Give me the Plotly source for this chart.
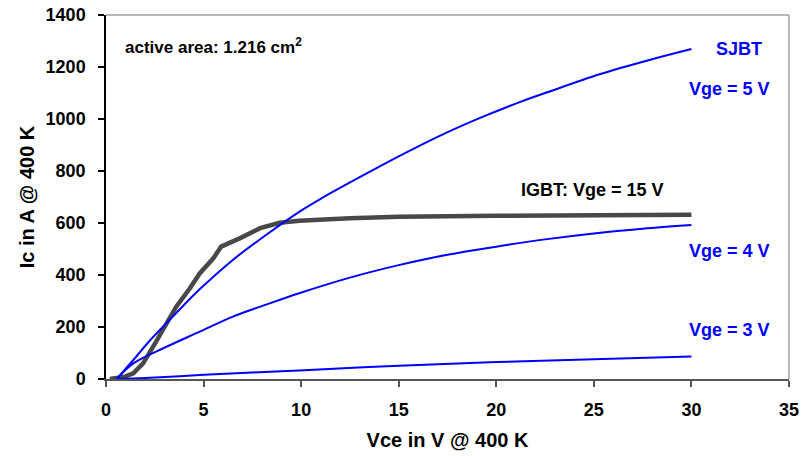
import plotly.graph_objects as go

# SJBT Vge = 5 V
x_5v = [0.55, 1.4, 2.25, 3.1, 3.96, 4.8, 6.5, 8.2, 9.9, 11.0, 13.0, 15.05, 17.1, 19.2, 21.2, 22.7, 25.3, 27.9, 30.0]
y_5v = [0, 73, 148, 215, 282, 345, 458, 554, 643, 693, 776, 858, 935, 1005, 1065, 1105, 1172, 1228, 1269]

# SJBT Vge = 4 V
x_4v = [0.55, 1.4, 3.1, 4.8, 6.5, 8.2, 9.9, 12.5, 15.0, 17.5, 20.0, 22.5, 25.0, 27.5, 30.0]
y_4v = [0, 60, 124, 182, 240, 286, 330, 390, 438, 478, 509, 537, 560, 578, 592]

# SJBT Vge = 3 V
x_3v = [0.6, 2.0, 4.8, 7.5, 9.9, 15.0, 20.0, 25.0, 30.0]
y_3v = [0, 4, 15, 25, 33, 51, 65, 76, 87]

# IGBT Vge = 15 V
x_igbt = [0.2, 0.97, 1.4, 1.9, 2.5, 3.1, 3.6, 4.3, 4.8, 5.5, 5.9, 6.85, 7.9, 8.9, 9.9, 12.5, 15.0, 20.0, 25.0, 30.0]
y_igbt = [0, 9, 22, 60, 135, 214, 278, 349, 406, 464, 509, 541, 580, 601, 609, 618, 624, 628, 631, 632]

x_ticks = [0, 5, 10, 15, 20, 25, 30, 35]
y_ticks = [0, 200, 400, 600, 800, 1000, 1200, 1400]

FONT = "Arial, 'Liberation Sans', sans-serif"
BLUE = "#0000FF"

fig = go.Figure()
fig.add_trace(go.Scatter(x=x_igbt, y=y_igbt, mode="lines",
                         line=dict(color="#484848", width=4.5), showlegend=False))
fig.add_trace(go.Scatter(x=x_5v, y=y_5v, mode="lines", line_shape="spline",
                         line=dict(color=BLUE, width=2), showlegend=False))
fig.add_trace(go.Scatter(x=x_4v, y=y_4v, mode="lines", line_shape="spline",
                         line=dict(color=BLUE, width=2), showlegend=False))
fig.add_trace(go.Scatter(x=x_3v, y=y_3v, mode="lines", line_shape="spline",
                         line=dict(color=BLUE, width=2), showlegend=False))

fig.update_layout(
    width=812, height=456,
    margin=dict(l=106, r=23, t=15, b=77),
    paper_bgcolor="white", plot_bgcolor="white",
    font=dict(family=FONT, size=18, color="black"),
    xaxis=dict(range=[0, 35], tickvals=x_ticks, showgrid=False, zeroline=False,
               automargin=False,
               showline=True, linecolor="#555555", linewidth=2,
               ticks="outside", ticklen=6, tickcolor="#555555", tickwidth=2,
               ticklabelstandoff=7,
               tickfont=dict(family=FONT, size=18, color="black", weight="bold"),
               title=dict(text="<b>Vce in V @ 400 K</b>", font=dict(family=FONT, size=20), standoff=14)),
    yaxis=dict(range=[0, 1400], tickvals=y_ticks, showgrid=False, zeroline=False,
               automargin=False,
               showline=True, linecolor="black", linewidth=1.5,
               ticks="outside", ticklen=6, tickcolor="black", tickwidth=1.5,
               ticklabelstandoff=9,
               tickfont=dict(family=FONT, size=18, color="black", weight="bold"),
               title=dict(text="<b>Ic in A @ 400 K</b>", font=dict(family=FONT, size=20), standoff=6)),
    shapes=[
        dict(type="line", xref="paper", yref="paper", x0=0, x1=1, y0=1, y1=1,
             line=dict(color="#A0A0A0", width=1.5)),
        dict(type="line", xref="paper", yref="paper", x0=1, x1=1, y0=0, y1=1,
             line=dict(color="#A0A0A0", width=1.5)),
    ],
)

def note(text, x, y, color, size=18, xanchor="center"):
    fig.add_annotation(x=x, y=y, xref="x", yref="y", text="<b>" + text + "</b>",
                       showarrow=False, xanchor=xanchor, yanchor="middle",
                       font=dict(family=FONT, size=size, color=color))

note("active area: 1.216 cm<sup>2</sup>", 0.85, 1281, "black", size=17, xanchor="left")
note("SJBT", 32.45, 1269, BLUE)
note("Vge = 5 V", 31.95, 1115, BLUE)
note("IGBT: Vge = 15 V", 24.95, 727, "black")
note("Vge = 4 V", 31.95, 492, BLUE)
note("Vge = 3 V", 31.95, 188, BLUE)

fig.write_html("out.html")
